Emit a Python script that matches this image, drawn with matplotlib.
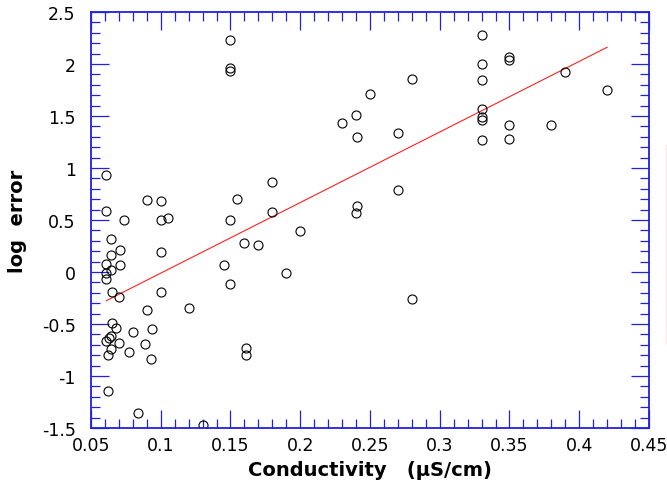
import numpy as np
import matplotlib
matplotlib.use("Agg")
import matplotlib.pyplot as plt
from matplotlib.ticker import MultipleLocator
from matplotlib.lines import Line2D

plt.rcParams['font.family'] = ['DejaVu Sans']

# Data
conductivity = [
    0.061, 0.090, 0.100, 0.061, 0.074, 0.100, 0.105, 0.064, 0.071, 0.064,
    0.100, 0.061, 0.071, 0.064, 0.061, 0.061, 0.065, 0.070, 0.100, 0.120,
    0.090, 0.065, 0.068, 0.080, 0.094, 0.064, 0.063, 0.061, 0.070, 0.089,
    0.064, 0.077, 0.062, 0.093, 0.062, 0.084, 0.130, 0.145, 0.150, 0.190,
    0.160, 0.170, 0.161, 0.161, 0.180, 0.155, 0.180, 0.150, 0.200, 0.150,
    0.150, 0.150, 0.230, 0.330, 0.330, 0.330, 0.280, 0.250, 0.240, 0.241,
    0.270, 0.330, 0.330, 0.330, 0.330, 0.350, 0.350, 0.390, 0.420, 0.350,
    0.350, 0.380, 0.270, 0.241, 0.240, 0.280,
]
log_error = [
    0.93, 0.69, 0.68, 0.59, 0.50, 0.50, 0.52, 0.32, 0.21, 0.16,
    0.19, 0.08, 0.07, 0.02, -0.01, -0.07, -0.19, -0.24, -0.19, -0.35,
    -0.37, -0.49, -0.54, -0.58, -0.55, -0.62, -0.63, -0.66, -0.68, -0.69,
    -0.74, -0.77, -0.80, -0.84, -1.14, -1.36, -1.47, 0.07, -0.12, -0.01,
    0.28, 0.26, -0.73, -0.80, 0.87, 0.70, 0.58, 0.50, 0.39, 2.23,
    1.96, 1.93, 1.43, 2.28, 2.00, 1.85, 1.86, 1.71, 1.51, 1.30,
    1.34, 1.57, 1.49, 1.46, 1.27, 2.07, 2.04, 1.92, 1.75, 1.41,
    1.28, 1.41, 0.79, 0.63, 0.57, -0.26,
]

x = np.array(conductivity)
y = np.array(log_error)

# least squares fit
slope, intercept = np.polyfit(x, y, 1)
xfit = np.array([x.min(), x.max()])
yfit = intercept + slope * xfit

fig = plt.figure(figsize=(6.67, 4.89), dpi=100)
ax = fig.add_axes([0.1364, 0.1227, 0.8366, 0.8507])

ax.plot(xfit, yfit, color='#ff2020', lw=0.8)
ax.plot(x, y, 'o', mfc='none', mec='black', ms=6.5, mew=0.8)

ax.set_xlim(0.05, 0.45)
ax.set_ylim(-1.5, 2.5)
ax.xaxis.set_major_locator(MultipleLocator(0.05))
ax.xaxis.set_minor_locator(MultipleLocator(0.01))
ax.yaxis.set_major_locator(MultipleLocator(0.5))
ax.yaxis.set_minor_locator(MultipleLocator(0.1))
ax.xaxis.set_major_formatter(plt.FuncFormatter(lambda v, p: f"{v:g}"))
ax.yaxis.set_major_formatter(plt.FuncFormatter(lambda v, p: f"{v:g}"))

blue = '#2020e0'
for s in ax.spines.values():
    s.set_color(blue)
    s.set_linewidth(1.3)
ax.tick_params(which='both', direction='in', top=True, right=True, color=blue, width=0.9)
ax.tick_params(which='major', length=13, labelsize=12.5)
ax.tick_params(axis='y', which='major', pad=11)
ax.tick_params(axis='x', which='major', pad=6)
ax.tick_params(which='minor', length=6.5)

ax.set_xlabel("Conductivity   (\u00b5S/cm)", fontsize=14, fontweight='bold')
ax.set_ylabel("log  error", fontsize=14, fontweight='bold')
ax.xaxis.set_label_coords(0.5, -0.077)
ax.yaxis.set_label_coords(-0.115, 0.5)

# clipped legend edge at the right border
fig.add_artist(Line2D([0.9995, 0.9995], [0.296, 0.701], color='#f08080', lw=1.0))

fig.savefig("out.png", dpi=100)
